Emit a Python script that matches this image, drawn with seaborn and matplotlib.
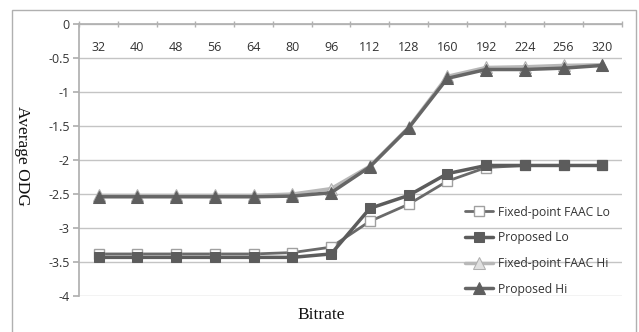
import pandas as pd
import matplotlib.pyplot as plt
import seaborn as sns
from matplotlib.patches import Rectangle

# Données
bitrates = ["32", "40", "48", "56", "64", "80", "96", "112", "128", "160", "192", "224", "256", "320"]
fixed_lo = [-3.38, -3.38, -3.38, -3.38, -3.38, -3.36, -3.28, -2.90, -2.65, -2.31, -2.11, -2.08, -2.08, -2.08]
proposed_lo = [-3.43, -3.43, -3.43, -3.43, -3.43, -3.43, -3.38, -2.71, -2.52, -2.20, -2.08, -2.08, -2.08, -2.08]
fixed_hi = [-2.52, -2.52, -2.52, -2.52, -2.52, -2.50, -2.42, -2.09, -1.52, -0.77, -0.64, -0.63, -0.61, -0.60]
proposed_hi = [-2.54, -2.54, -2.54, -2.54, -2.54, -2.53, -2.48, -2.10, -1.53, -0.80, -0.67, -0.67, -0.65, -0.61]

df = pd.DataFrame({"Bitrate": bitrates, "fixed_lo": fixed_lo, "proposed_lo": proposed_lo,
                   "fixed_hi": fixed_hi, "proposed_hi": proposed_hi})

sns.set_theme(style = "white")
plt.rcParams['font.family'] = ['Open Sans', 'DejaVu Sans']

fig = plt.figure(figsize = (6.39, 3.32), dpi = 100)
ax = fig.add_axes([0.124, 0.108, 0.849, 0.82])

# Cadre extérieur
fig.patches.append(Rectangle((0.018, -0.01), 0.978, 0.98, transform = fig.transFigure,
                             fill = False, edgecolor = "#b0b0b0", lw = 1))

# Séries
sns.lineplot(data = df, x = "Bitrate", y = "fixed_lo", ax = ax, sort = False, color = "#6a6a6a", lw = 2,
             marker = "s", markersize = 7, markerfacecolor = "white", markeredgecolor = "#a0a0a0",
             markeredgewidth = 1, label = "Fixed-point FAAC Lo")
sns.lineplot(data = df, x = "Bitrate", y = "proposed_lo", ax = ax, sort = False, color = "#5c5c5c", lw = 2.5,
             marker = "s", markersize = 7, markerfacecolor = "#5c5c5c", markeredgecolor = "#5c5c5c",
             label = "Proposed Lo")
sns.lineplot(data = df, x = "Bitrate", y = "fixed_hi", ax = ax, sort = False, color = "#b8b8b8", lw = 2.5,
             marker = "^", markersize = 8, markerfacecolor = "#e0e0e0", markeredgecolor = "#b0b0b0",
             label = "Fixed-point FAAC Hi")
sns.lineplot(data = df, x = "Bitrate", y = "proposed_hi", ax = ax, sort = False, color = "#666666", lw = 2.5,
             marker = "^", markersize = 9, markerfacecolor = "#5e5e5e", markeredgecolor = "#5e5e5e",
             label = "Proposed Hi")

# Axes
ax.set_ylim(-4, 0)
ax.set_xlim(-0.5, len(bitrates) - 0.5)
ax.set_yticks([0, -0.5, -1, -1.5, -2, -2.5, -3, -3.5, -4])
ax.set_yticklabels(["0", "-0.5", "-1", "-1.5", "-2", "-2.5", "-3", "-3.5", "-4"])
ax.yaxis.grid(True, color = "#c4c4c4", lw = 1)
ax.set_axisbelow(True)
for s in ["right", "bottom"]:
    ax.spines[s].set_visible(False)
ax.spines["left"].set_color("#b0b0b0")
ax.spines["top"].set_color("#b0b0b0")
ax.tick_params(axis = "y", left = True, length = 4, color = "#b0b0b0", labelsize = 9,
               labelcolor = "#333333", pad = 3)

ax.xaxis.tick_top()
ax.set_xticks(range(len(bitrates)))
ax.set_xticklabels(bitrates)
ax.set_xticks([i - 0.5 for i in range(len(bitrates) + 1)], minor = True)
ax.tick_params(axis = "x", which = "major", top = True, length = 0, labelsize = 9,
               labelcolor = "#333333", pad = -22)
ax.tick_params(axis = "x", which = "minor", top = True, length = 4, direction = "inout", color = "#b0b0b0")

ax.set_xlabel("")
ax.set_ylabel("")
fig.text(0.503, 0.05, "Bitrate", ha = "center", va = "center", fontsize = 12.5,
         family = "Liberation Serif", color = "#111111")
fig.text(0.034, 0.53, "Average ODG", ha = "center", va = "center", rotation = 270, fontsize = 12.5,
         family = "Liberation Serif", color = "#111111")

ax.legend(loc = "upper left", bbox_to_anchor = (0.70, 0.355), frameon = False, fontsize = 8.7,
          handlelength = 2.3, labelspacing = 1.05, handletextpad = 0.4, borderpad = 0,
          labelcolor = "#333333")

plt.savefig("out.png", dpi = 100)
